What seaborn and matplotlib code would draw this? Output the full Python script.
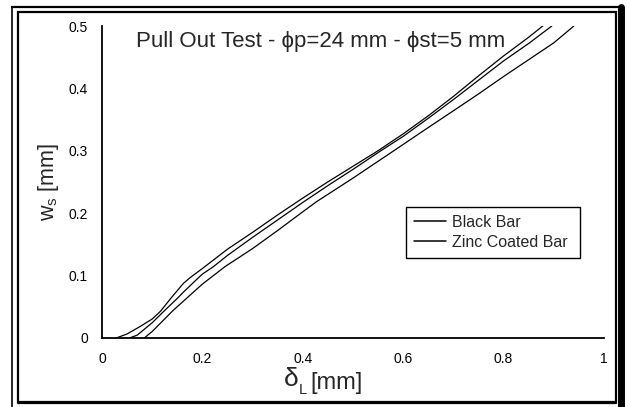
import numpy as np
import pandas as pd
import seaborn as sns
import matplotlib.pyplot as plt
from matplotlib.lines import Line2D
from matplotlib.patches import Rectangle

# ===============================
# Data
# ===============================
black1_x = [0.03, 0.05, 0.076, 0.1, 0.116, 0.14, 0.162, 0.175, 0.2, 0.25, 0.3, 0.35,
            0.4, 0.45, 0.5, 0.55, 0.6, 0.65, 0.7, 0.75, 0.8, 0.85, 0.878]
black1_y = [0.0, 0.006, 0.018, 0.03, 0.042, 0.066, 0.087, 0.096, 0.111, 0.142, 0.169, 0.197,
            0.224, 0.25, 0.275, 0.3, 0.327, 0.356, 0.387, 0.42, 0.452, 0.482, 0.5]

black2_x = [0.056, 0.07, 0.082, 0.1, 0.129, 0.15, 0.162, 0.188, 0.2, 0.222, 0.25, 0.3,
            0.35, 0.4, 0.45, 0.5, 0.55, 0.6, 0.65, 0.7, 0.75, 0.8, 0.85, 0.896]
black2_y = [0.0, 0.004, 0.012, 0.024, 0.047, 0.063, 0.073, 0.093, 0.102, 0.114, 0.132, 0.161,
            0.189, 0.217, 0.244, 0.27, 0.297, 0.323, 0.352, 0.382, 0.413, 0.444, 0.472, 0.5]

zinc_x = [0.085, 0.1, 0.142, 0.2, 0.245, 0.3, 0.35, 0.4, 0.427, 0.5, 0.55, 0.6,
          0.633, 0.7, 0.75, 0.8, 0.85, 0.9, 0.94]
zinc_y = [0.0, 0.01, 0.044, 0.086, 0.114, 0.143, 0.172, 0.202, 0.218, 0.256, 0.283, 0.31,
          0.328, 0.364, 0.391, 0.419, 0.446, 0.473, 0.5]

x_ticks = [0, 0.2, 0.4, 0.6, 0.8, 1]
x_tick_labels = ["0", "0.2", "0.4", "0.6", "0.8", "1"]
y_ticks = [0, 0.1, 0.2, 0.3, 0.4, 0.5]
y_tick_labels = ["0", "0.1", "0.2", "0.3", "0.4", "0.5"]

# long table for seaborn
frames = []
for xs, ys, bar, test in [(black1_x, black1_y, "Black Bar", "B1"),
                          (black2_x, black2_y, "Black Bar", "B2"),
                          (zinc_x, zinc_y, "Zinc Coated Bar", "Z1")]:
    frames.append(pd.DataFrame({"delta": xs, "w": ys, "bar": bar, "test": test}))
df = pd.concat(frames, ignore_index=True)

# ===============================
# Plot
# ===============================
sns.set_style("white")
plt.rcParams['font.family'] = ['Liberation Sans', 'DejaVu Sans']
plt.rcParams['mathtext.fontset'] = 'custom'
plt.rcParams['mathtext.rm'] = 'Liberation Sans'

W, H = 629, 407
fig = plt.figure(figsize=(W / 100, H / 100), dpi=100)
ax = fig.add_axes([102 / W, 1 - 337.7 / H, 502 / W, 311.7 / H])

sns.lineplot(data=df, x="delta", y="w", hue="bar", units="test", estimator=None,
             palette={"Black Bar": "black", "Zinc Coated Bar": "black"},
             linewidth=0.9, ax=ax)

ax.set_xlim(0, 1)
ax.set_ylim(0, 0.5)
ax.set_xticks(x_ticks)
ax.set_xticklabels(x_tick_labels)
ax.set_yticks(y_ticks)
ax.set_yticklabels(y_tick_labels)
ax.tick_params(direction="inout", length=8, width=1.2, colors="black",
               labelsize=10, pad=6)
for side in ["top", "right"]:
    ax.spines[side].set_visible(False)
for side in ["left", "bottom"]:
    ax.spines[side].set_color("black")
    ax.spines[side].set_linewidth(1.3)

ax.set_xlabel("")
ax.set_ylabel("w$_\\mathregular{s}$ [mm]", fontsize=15.5)
ax.yaxis.set_label_coords(-0.081, 0.5)

ax.text(0.068, 0.95, "Pull Out Test - \u03d5p=24 mm - \u03d5st=5 mm", transform=ax.transAxes,
        fontsize=16, ha="left", va="center")

leg = ax.legend(loc="upper left", bbox_to_anchor=(0.606, 0.256, 0.347, 0.163),
                mode="expand", borderaxespad=0,
                fancybox=False, edgecolor="black", fontsize=11.5, handlelength=2.0,
                handletextpad=0.35, borderpad=0.5, labelspacing=0.3, framealpha=1)
leg.get_frame().set_linewidth(1.0)
for line in leg.get_lines():
    line.set_linewidth(1.1)


# pixel helpers (origin at top-left of the image)
def fx(px):
    return px / W


def fy(py):
    return 1 - py / H


# x axis label with the large delta, as in the original
fig.text(fx(284), fy(386), "δ", fontsize=19, ha="left", va="baseline")
fig.text(fx(299), fy(394), "L", fontsize=10.5, ha="left", va="baseline")
fig.text(fx(310), fy(389), "[mm]", fontsize=17, ha="left", va="baseline")

# chart-area frame with shadow
fig.add_artist(Rectangle((fx(18), fy(402)), fx(616) - fx(18), fy(12) - fy(402),
                         transform=fig.transFigure, fill=False, edgecolor="black", lw=1.6))
fig.add_artist(Line2D([fx(12), fx(12)], [fy(7), fy(407)], transform=fig.transFigure,
                      color="black", lw=1.2))
fig.add_artist(Line2D([fx(12), fx(621)], [fy(7), fy(7)], transform=fig.transFigure,
                      color="black", lw=1.6))
fig.add_artist(Line2D([fx(621), fx(621)], [fy(7), fy(407)], transform=fig.transFigure,
                      color="black", lw=5))
fig.add_artist(Line2D([fx(18), fx(616)], [fy(403), fy(403)], transform=fig.transFigure,
                      color="black", lw=1.6))

fig.savefig("out.png", dpi=100)
